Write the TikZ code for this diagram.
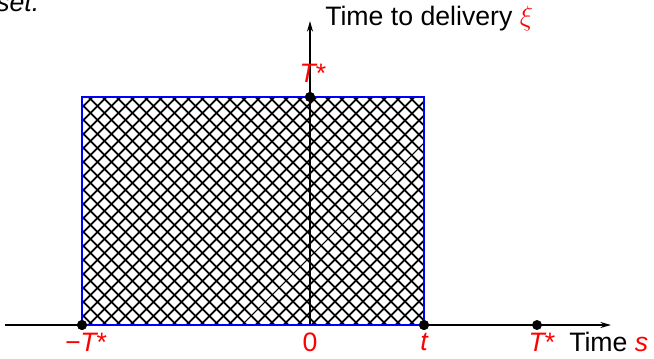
\documentclass[tikz,border=0pt]{standalone}
\usepackage{amsmath}
\usepackage{fontspec}
\setmainfont{Liberation Sans}
\usepackage{tikz}
\usetikzlibrary{arrows.meta,patterns.meta}
\tikzstyle{dot}=[draw=black,circle,fill=black,minimum size=7pt, inner sep=0pt, outer sep=0pt]
\tikzstyle{lab}=[text=red,inner sep=0pt,font=\fontsize{20}{24}\selectfont\itshape]
\tikzstyle{txt}=[text=black,inner sep=0pt,font=\fontsize{20}{24}\selectfont]
\tikzstyle{axis}=[line width=1pt,-{Stealth[length=8pt,width=4.5pt]}]
\tikzstyle{hatchA}=[pattern={Lines[angle=45,distance=7.4pt,line width=1.5pt]}]
\tikzstyle{hatchB}=[pattern={Lines[angle=-45,distance=7.4pt,line width=1.5pt]}]
\newcommand{\st}{{\upshape *}}

\begin{document}
\begin{tikzpicture}[x=0.75pt,y=-0.75pt]
\useasboundingbox (0,0) rectangle (654,358);
% axes ends
\coordinate (xl) at (5,325);
\coordinate (xr) at (611,325);
\coordinate (yt) at (310,21);
\node[dot] (o) at (310,325) [draw=none,fill=none] {};
% points
\node[dot] (m1) at (82,325) {};
\node[dot] (t1) at (424,325) {};
\node[dot] (p1) at (537,325) {};
\node[dot] (q1) at (310,97) {};
\coordinate (c1) at (82,97);
\coordinate (c2) at (424,97);
% hatched box
\fill[hatchA] (m1.center) rectangle (c2);
\fill[hatchB] (m1.center) rectangle (c2);
\draw[axis] (xl) -- (xr);
\draw[axis] (o.center) -- (yt);
\draw[blue,line width=1.8pt] (m1.center) -- (c1) -- (c2) -- (t1.center) -- cycle;
\node[dot] at (m1) {};
\node[dot] at (t1) {};
\node[dot] at (q1) {};
% labels
\node[lab] (l1) at (86,342) {−T\st};
\node[lab,font=\fontsize{20}{24}\selectfont] (l2) at (310,342) {0};
\node[lab] (l3) at (424,342) {t};
\node[lab] (l4) at (542,342) {T\st};
\node[txt,anchor=west] (l5) at (569,342) {Time \textcolor{red}{\textit{s}}};
\node[lab] (l6) at (313,73) {T\st};
\node[txt,anchor=west] (l7) at (325,19) {Time to delivery \textcolor{red}{$\xi$}};
\node[txt,anchor=west,font=\fontsize{20}{24}\selectfont\itshape] (l8) at (-4,3) {set.};
\end{tikzpicture}
\end{document}
